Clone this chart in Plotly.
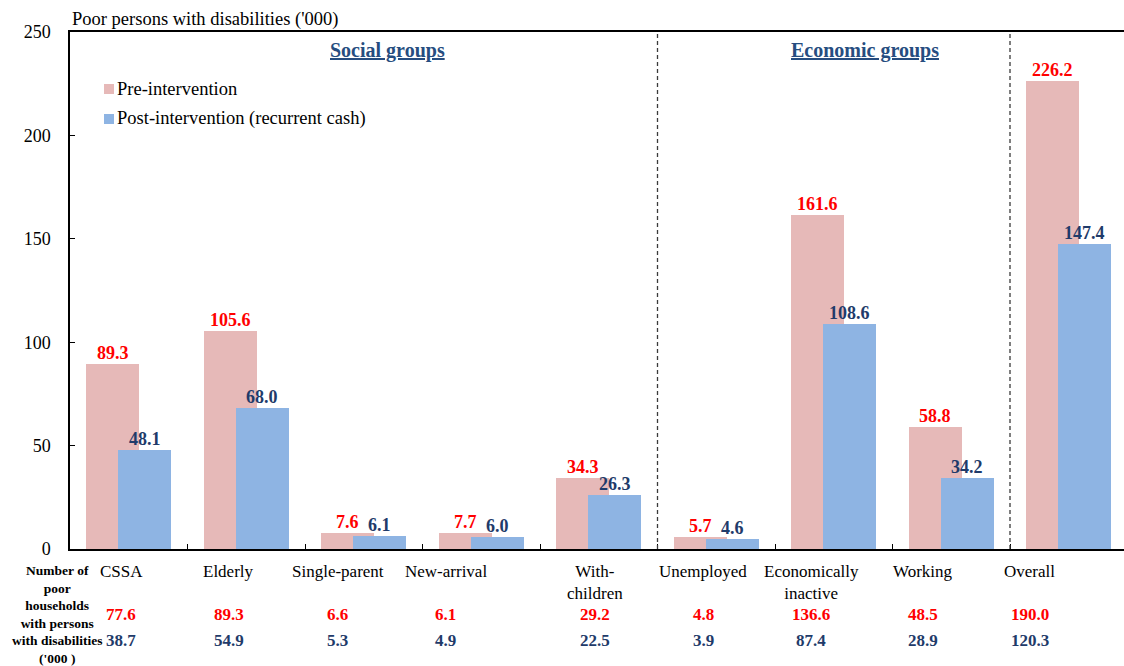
import plotly.graph_objects as go

# Poor persons with disabilities ('000), by household group
categories = ["CSSA", "Elderly", "Single-parent", "New-arrival", "With-<br>children",
              "Unemployed", "Economically<br>inactive", "Working", "Overall"]
pre_intervention = [89.3, 105.6, 7.6, 7.7, 34.3, 5.7, 161.6, 58.8, 226.2]
post_intervention = [48.1, 68.0, 6.1, 6.0, 26.3, 4.6, 108.6, 34.2, 147.4]

# Number of poor households with persons with disabilities ('000)
households_pre = [77.6, 89.3, 6.6, 6.1, 29.2, 4.8, 136.6, 48.5, 190.0]
households_post = [38.7, 54.9, 5.3, 4.9, 22.5, 3.9, 87.4, 28.9, 120.3]

y_ticks = [0, 50, 100, 150, 200, 250]

# ---- layout constants ----
W, H = 1124, 666
M_L, M_R, M_T, M_B = 70, 0, 32, 117
PLOT_W = W - M_L - M_R
PLOT_H = H - M_T - M_B
CAT_W = 117.5                      # pixels per category
X_MAX = -0.5 + PLOT_W / CAT_W

BAR_W = 53 / CAT_W
PRE_OFF = -42.5 / CAT_W
POST_OFF = -10.5 / CAT_W

SERIF = '"Liberation Serif", "Times New Roman", Times, serif'
PRE_COLOR = "#E6B9B8"
POST_COLOR = "#8EB4E3"
RED = "#FF0000"
NAVY = "#1F3B6A"
HEAD = "#264D80"

# table column centres (pixels) beneath the plot
table_cols_px = [121, 228.5, 337.5, 445.5, 594.5, 703, 811, 923, 1029.5]


def px_x(px):
    return (px - M_L) / PLOT_W


def px_y(py):
    return (H - M_B - py) / PLOT_H


x_idx = list(range(len(categories)))

fig = go.Figure()
fig.add_trace(go.Bar(
    x=x_idx, y=pre_intervention, name="Pre-intervention",
    width=BAR_W, offset=PRE_OFF, marker=dict(color=PRE_COLOR, line=dict(width=0)),
    showlegend=False,
))
fig.add_trace(go.Bar(
    x=x_idx, y=post_intervention, name="Post-intervention (recurrent cash)",
    width=BAR_W, offset=POST_OFF, marker=dict(color=POST_COLOR, line=dict(width=0)),
    showlegend=False,
))

ann = []
# value labels above bars
for i, (a, b) in enumerate(zip(pre_intervention, post_intervention)):
    ann.append(dict(x=i + PRE_OFF + BAR_W / 2, y=a, xref="x", yref="y",
                    text=f"<b>{a:.1f}</b>", showarrow=False, yanchor="middle", yshift=11,
                    font=dict(family=SERIF, size=18, color=RED)))
    ann.append(dict(x=i + POST_OFF + BAR_W / 2, y=b, xref="x", yref="y",
                    text=f"<b>{b:.1f}</b>", showarrow=False, yanchor="middle", yshift=11,
                    font=dict(family=SERIF, size=18, color=NAVY)))

# category labels and household table
for cx, cat, hp, hq in zip(table_cols_px, categories, households_pre, households_post):
    ann.append(dict(x=px_x(cx), y=px_y(560), xref="paper", yref="paper",
                    text=cat, showarrow=False, xanchor="center", yanchor="top",
                    font=dict(family=SERIF, size=17, color="black")))
    ann.append(dict(x=px_x(cx), y=px_y(614), xref="paper", yref="paper",
                    text=f"<b>{hp:.1f}</b>", showarrow=False, xanchor="center", yanchor="middle",
                    font=dict(family=SERIF, size=17, color=RED)))
    ann.append(dict(x=px_x(cx), y=px_y(640), xref="paper", yref="paper",
                    text=f"<b>{hq:.1f}</b>", showarrow=False, xanchor="center", yanchor="middle",
                    font=dict(family=SERIF, size=17, color=NAVY)))

ann.append(dict(x=px_x(57), y=px_y(614.5), xref="paper", yref="paper",
                text="<b>Number of<br>poor<br>households<br>with persons<br>with disabilities<br>('000 )</b>",
                showarrow=False, xanchor="center", yanchor="middle", align="center",
                font=dict(family=SERIF, size=13.5, color="black")))

# axis title
ann.append(dict(x=0, y=1, xref="paper", yref="paper", text="Poor persons with disabilities ('000)",
                showarrow=False, xanchor="left", yanchor="middle", yshift=13,
                font=dict(family=SERIF, size=18.5, color="black")))

# group headings
ann.append(dict(x=px_x(387), y=px_y(50), xref="paper", yref="paper",
                text="<b><u>Social groups</u></b>", showarrow=False, xanchor="center", yanchor="middle",
                font=dict(family=SERIF, size=20, color=HEAD)))
ann.append(dict(x=px_x(865), y=px_y(50), xref="paper", yref="paper",
                text="<b><u>Economic groups</u></b>", showarrow=False, xanchor="center", yanchor="middle",
                font=dict(family=SERIF, size=20, color=HEAD)))

# legend
shapes = []
for name, color, cy in [("Pre-intervention", PRE_COLOR, 89),
                        ("Post-intervention (recurrent cash)", POST_COLOR, 119)]:
    shapes.append(dict(type="rect", xref="paper", yref="paper",
                       x0=px_x(104), x1=px_x(114), y0=px_y(cy + 5), y1=px_y(cy - 5),
                       fillcolor=color, line=dict(width=0)))
    ann.append(dict(x=px_x(115), y=px_y(cy), xref="paper", yref="paper", text=name,
                    showarrow=False, xanchor="left", yanchor="middle",
                    font=dict(family=SERIF, size=18.5, color="black")))

# dashed separators between group blocks
for xb in [4.5, 7.5]:
    shapes.append(dict(type="line", xref="x", yref="paper", x0=xb, x1=xb, y0=0, y1=1,
                       line=dict(color="#3A3A3A", width=1.3, dash="4px,3px")))

fig.update_layout(
    width=W, height=H, autosize=False,
    margin=dict(l=M_L, r=M_R, t=M_T, b=M_B, pad=0),
    plot_bgcolor="white", paper_bgcolor="white",
    barmode="overlay", bargap=0,
    font=dict(family=SERIF),
    annotations=ann, shapes=shapes,
    showlegend=False,
    xaxis=dict(range=[-0.5, X_MAX], tickmode="array",
               tickvals=[i + 0.5 for i in range(len(categories) - 1)],
               ticks="inside", ticklen=5, tickcolor="black", tickwidth=1,
               showticklabels=False, showgrid=False, zeroline=False,
               showline=True, linecolor="black", linewidth=1.5, mirror=True),
    yaxis=dict(range=[0, 250], tickmode="array", tickvals=y_ticks,
               ticks="inside", ticklen=5, tickcolor="black", tickwidth=1,
               tickfont=dict(family=SERIF, size=18, color="black"),
               ticklabelstandoff=14,
               showgrid=False, zeroline=False,
               showline=True, linecolor="black", linewidth=1.5),
)

fig.write_html("out.html")
